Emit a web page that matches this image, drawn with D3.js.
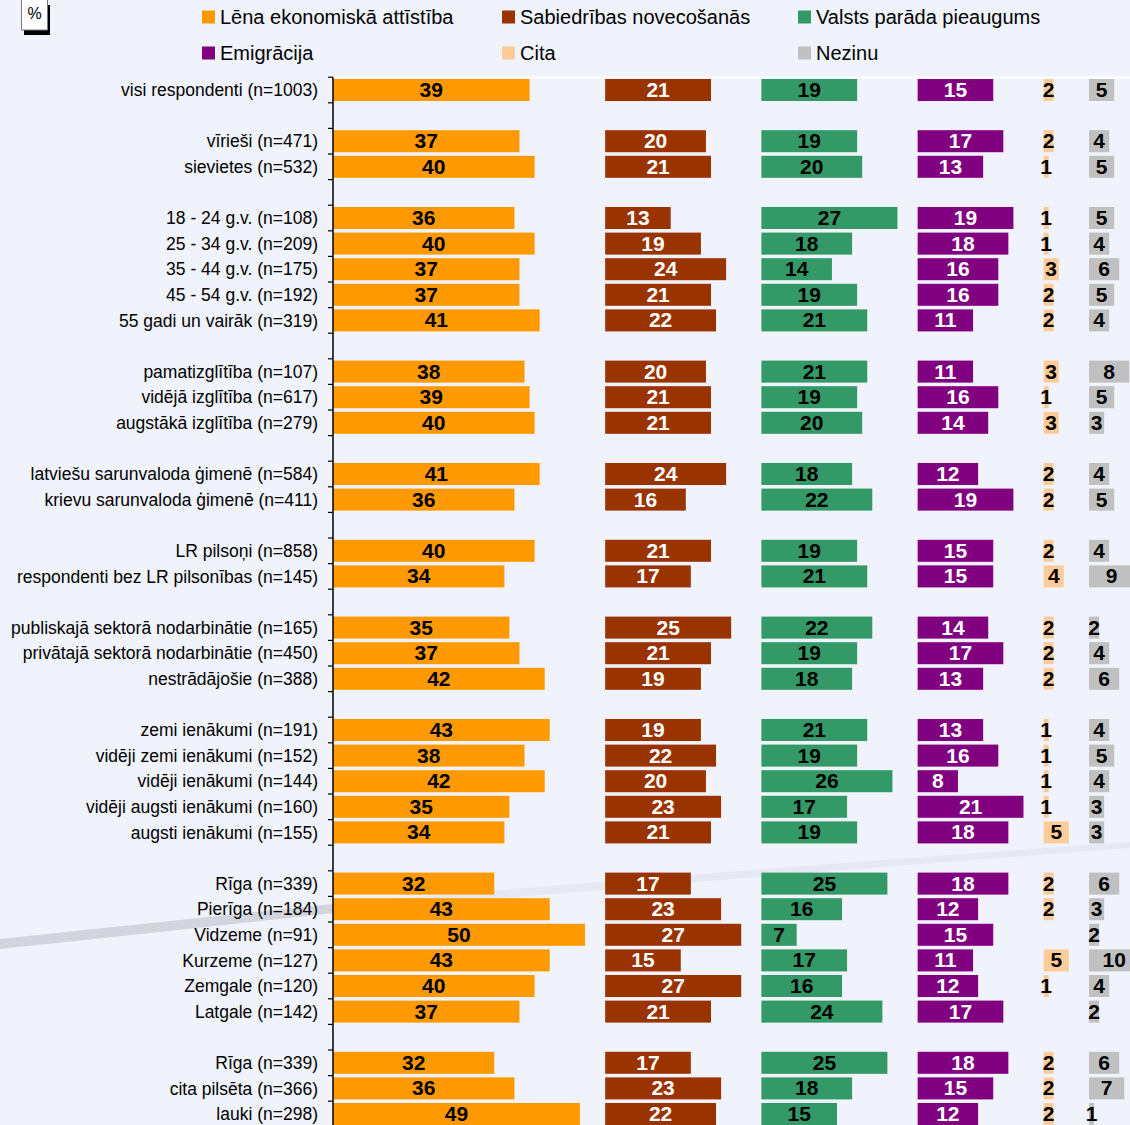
<!DOCTYPE html>
<html>
<head>
<meta charset="utf-8">
<script src="https://d3js.org/d3.v7.min.js"></script>
<style>
  body { margin: 0; background: #f0f3fc; }
  text { font-family: 'Liberation Sans', Arial, sans-serif; }
  .rowlabel { font-size: 17.5px; fill: #000; }
  .val { font-size: 21px; font-weight: bold; }
  .legend text { font-size: 20px; fill: #000; }
</style>
</head>
<body>
<script>

var categories = [
  "visi respondenti (n=1003)",
  "vīrieši (n=471)", "sievietes (n=532)",
  "18 - 24 g.v. (n=108)", "25 - 34 g.v. (n=209)", "35 - 44 g.v. (n=175)", "45 - 54 g.v. (n=192)", "55 gadi un vairāk (n=319)",
  "pamatizglītība (n=107)", "vidējā izglītība (n=617)", "augstākā izglītība (n=279)",
  "latviešu sarunvaloda ģimenē (n=584)", "krievu sarunvaloda ģimenē (n=411)",
  "LR pilsoņi (n=858)", "respondenti bez LR pilsonības (n=145)",
  "publiskajā sektorā nodarbinātie (n=165)", "privātajā sektorā nodarbinātie (n=450)", "nestrādājošie (n=388)",
  "zemi ienākumi (n=191)", "vidēji zemi ienākumi (n=152)", "vidēji ienākumi (n=144)", "vidēji augsti ienākumi (n=160)", "augsti ienākumi (n=155)",
  "Rīga (n=339)", "Pierīga (n=184)", "Vidzeme (n=91)", "Kurzeme (n=127)", "Zemgale (n=120)", "Latgale (n=142)",
  "Rīga (n=339)", "cita pilsēta (n=366)", "lauki (n=298)"
];
// how many rows in each block (an empty row separates blocks)
var groupSizes = [1, 2, 5, 3, 2, 2, 3, 5, 6, 3];

var seriesNames = ["Lēna ekonomiskā attīstība", "Sabiedrības novecošanās", "Valsts parāda pieaugums",
                   "Emigrācija", "Cita", "Nezinu"];

var lena      = [39, 37,40, 36,40,37,37,41, 38,39,40, 41,36, 40,34, 35,37,42, 43,38,42,35,34, 32,43,50,43,40,37, 32,36,49];
var novecos   = [21, 20,21, 13,19,24,21,22, 20,21,21, 24,16, 21,17, 25,21,19, 19,22,20,23,21, 17,23,27,15,27,21, 17,23,22];
var parads    = [19, 19,20, 27,18,14,19,21, 21,19,20, 18,22, 19,21, 22,19,18, 21,19,26,17,19, 25,16,7,17,16,24, 25,18,15];
var emigr     = [15, 17,13, 19,18,16,16,11, 11,16,14, 12,19, 15,15, 14,17,13, 13,16,8,21,18, 18,12,15,11,12,17, 18,15,12];
var cita      = [2, 2,1, 1,1,3,2,2, 3,1,3, 2,2, 2,4, 2,2,2, 1,1,1,1,5, 2,2,0,5,1,0, 2,2,2];
var nezinu    = [5, 4,5, 5,4,6,5,4, 8,5,3, 4,5, 4,9, 2,4,6, 4,5,4,3,3, 6,3,2,10,4,2, 6,7,1];

var series = [lena, novecos, parads, emigr, cita, nezinu];
var colors = ["#ff9900", "#993300", "#339966", "#800080", "#ffcc99", "#c0c0c0"];
var labelColors = ["#000", "#fff", "#000", "#fff", "#000", "#000"];
// where each series column begins, in % units (invisible spacers)
var colStart = [0, 54, 85, 116, 141, 150];

var W = 1130, H = 1125;

// build slots: rows plus empty separator slots
var slots = [], rowSlot = [], k = 0;
groupSizes.forEach(function(n, gi) {
  if (gi > 0) slots.push("gap" + gi);
  for (var i = 0; i < n; i++) { rowSlot.push(slots.length); slots.push("r" + k); k++; }
});

var svg = d3.select("body").append("svg")
  .attr("width", W).attr("height", H);

var x = d3.scaleLinear().domain([0, 158]).range([333, 333 + 158 * 5.04]);
var y = d3.scaleBand().domain(slots).range([77.2, 77.2 + slots.length * 25.6]).paddingInner(0.14).paddingOuter(0.07);
var yEdge = d3.scaleLinear().domain([0, slots.length]).range([77.2, 77.2 + slots.length * 25.6]);

// decorative swoosh
svg.append("path")
  .attr("d", "M0,939 Q170,921 333,904 L333,913 Q170,931 0,949 Z")
  .attr("fill", "#d2d5de");
svg.append("path")
  .attr("d", "M333,904 Q730,870 1130,842 L1130,848 Q730,878 333,913 Z")
  .attr("fill", "#e6e9f4");

// white top border of plot area
svg.append("line")
  .attr("x1", 333).attr("x2", W).attr("y1", 77.5).attr("y2", 77.5)
  .attr("stroke", "#fff").attr("stroke-width", 2);

// % box
svg.append("rect").attr("x", 24).attr("y", 5).attr("width", 26).attr("height", 30).attr("fill", "#000");
svg.append("rect").attr("x", 21.5).attr("y", -1).attr("width", 26).attr("height", 31)
  .attr("fill", "#fff").attr("stroke", "#777").attr("stroke-width", 1);
svg.append("text").attr("x", 34.5).attr("y", 19).attr("text-anchor", "middle")
  .style("font-size", "16px").text("%");

// legend
var legend = svg.append("g").attr("class", "legend");
var legX = [202, 502, 798], legY = [17, 53];
seriesNames.forEach(function(name, i) {
  var lx = legX[i % 3], ly = legY[Math.floor(i / 3)];
  legend.append("rect").attr("x", lx).attr("y", ly - 6.5).attr("width", 13).attr("height", 13).attr("fill", colors[i]);
  legend.append("text").attr("x", lx + 18).attr("y", ly).attr("dy", "0.35em").text(name);
});

// bars
series.forEach(function(vals, si) {
  svg.append("g").selectAll("rect").data(vals).enter().append("rect")
    .attr("x", x(colStart[si]))
    .attr("y", function(d, i) { return y(slots[rowSlot[i]]); })
    .attr("width", function(d) { return x(colStart[si] + d) - x(colStart[si]); })
    .attr("height", y.bandwidth())
    .attr("fill", colors[si]);
});

// value labels
series.forEach(function(vals, si) {
  var pts = vals.map(function(d, i) { return {v: d, i: i}; }).filter(function(o) { return o.v > 0; });
  svg.append("g").selectAll("text").data(pts).enter().append("text")
    .attr("class", "val")
    .attr("text-anchor", "middle")
    .attr("fill", labelColors[si])
    .attr("x", function(o) { return x(colStart[si] + o.v / 2); })
    .attr("y", function(o) { return y(slots[rowSlot[o.i]]) + y.bandwidth() / 2; })
    .attr("dy", "0.33em")
    .text(function(o) { return o.v; });
});

// category axis
var axis = svg.append("g");
axis.append("line")
  .attr("x1", 333).attr("x2", 333)
  .attr("y1", yEdge(0)).attr("y2", yEdge(slots.length))
  .attr("stroke", "#000").attr("stroke-width", 1.5);
axis.selectAll("line.tick").data(d3.range(0, slots.length + 1)).enter().append("line")
  .attr("class", "tick")
  .attr("x1", 328).attr("x2", 333)
  .attr("y1", function(d) { return yEdge(d); }).attr("y2", function(d) { return yEdge(d); })
  .attr("stroke", "#000").attr("stroke-width", 1.2);

svg.append("g").selectAll("text").data(categories).enter().append("text")
  .attr("class", "rowlabel")
  .attr("text-anchor", "end")
  .attr("x", 318)
  .attr("y", function(d, i) { return y(slots[rowSlot[i]]) + y.bandwidth() / 2; })
  .attr("dy", "0.35em")
  .text(function(d) { return d; });

</script>
</body>
</html>
